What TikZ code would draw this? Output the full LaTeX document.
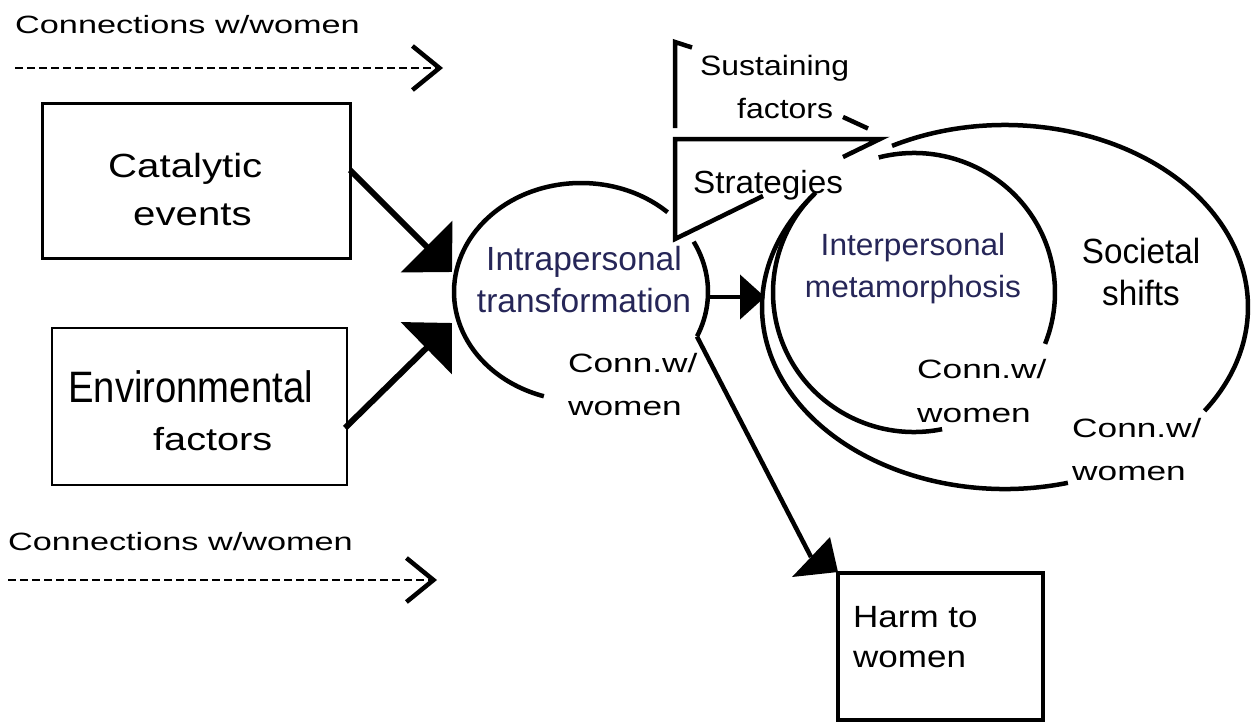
\documentclass[tikz,border=0pt]{standalone}
\usepackage{fontspec}
\setmainfont{Liberation Sans}
\usetikzlibrary{arrows.meta,shapes.geometric}
\newcommand\tfnt[3]{\fontsize{#1}{#2}\selectfont\addfontfeature{FakeStretch=#3}}
\definecolor{navy}{RGB}{38,38,88}
\begin{document}
\begin{tikzpicture}[x=1pt,y=-1pt,
  txt/.style={inner sep=0pt, anchor=base west, align=left},
  ctxt/.style={inner sep=0pt, anchor=base, align=center},
  boxnode/.style={draw, line width=3pt, rectangle, inner sep=0pt, outer sep=0pt},
  ring/.style={ellipse, inner sep=0pt, outer sep=0pt, draw=none},
  ln/.style={line width=4.5pt},
  bigarrow/.style={line width=6pt, -{Triangle[length=36pt,width=72pt]}},
  midarrow/.style={line width=4.5pt, -{Triangle[length=25pt,width=44pt]}},
  dasharrow/.style={line width=2.2pt, dash pattern=on 8pt off 4pt, -{Straight Barb[length=27pt,width=44pt,line width=4.5pt]}},
]
\useasboundingbox[fill=white] (0,0) rectangle (1254,723);

% boxes
\node[boxnode, minimum width=308pt, minimum height=155pt] (cat) at (196,180.5) {};
\node[boxnode, line width=2.5pt, minimum width=295pt, minimum height=157pt] (env) at (199.5,406.5) {};
\node[boxnode, line width=3.5pt, minimum width=205pt, minimum height=147pt] (harm) at (940.5,646.5) {};

% ellipses (named, arcs drawn below)
\node[ring, minimum width=254pt, minimum height=218pt] (intra) at (581,292) {};
\node[ring, minimum width=282pt, minimum height=279pt] (inter) at (914,292.5) {};
\node[ring, minimum width=486pt, minimum height=364pt] (soc) at (1005,307) {};

% intrapersonal ring
\draw[ln, shift={(intra.center)}] (-47:127 and 109) arc[start angle=-47, end angle=-253, x radius=127, y radius=109];
\draw[ln, shift={(intra.center)}] (-27.5:127 and 109) arc[start angle=-27.5, end angle=24, x radius=127, y radius=109];
% interpersonal ring
\draw[ln, shift={(inter.center)}] (255.5:141 and 139.5) arc[start angle=255.5, end angle=381.6, x radius=141, y radius=139.5];
\draw[ln, shift={(inter.center)}] (78.5:141 and 139.5) arc[start angle=78.5, end angle=225.8, x radius=141, y radius=139.5];
% societal ring
\draw[ln, shift={(soc.center)}] (242.3:243 and 182) arc[start angle=242.3, end angle=394.8, x radius=243, y radius=182];
\draw[ln, shift={(soc.center)}] (75:243 and 182) arc[start angle=75, end angle=218.4, x radius=243, y radius=182];

% sustaining factors / strategies triangles
\draw[ln] (692,47.5) -- (675,42) -- (675,128);
\draw[ln] (843,117) -- (868,128.5);
\draw[ln] (763,196) -- (675,239) -- (675,139) -- (880,139) -- (843,157);

% texts
\node[txt, font={\tfnt{25}{30}{1.37}}] (conntop) at (15,33) {Connections w/women};
\node[txt, font={\tfnt{25}{30}{1.37}}] (connbot) at (8,550) {Connections w/women};
\node[txt, font={\tfnt{33.5}{48}{1.2}}] (catT) at (108,225) {Catalytic\\\hspace*{25pt}events};
\node[txt, font={\tfnt{44}{50}{0.87}}] (envT1) at (68,402) {Environmental};
\node[txt, font={\tfnt{32}{40}{1.24}}] (envT2) at (153,450) {factors};
\node[ctxt, text=navy, font={\tfnt{33.5}{42}{1.0}}] (intraT) at (584,312) {Intrapersonal\\transformation};
\node[txt, font={\tfnt{26.5}{43}{1.33}}] (connT1) at (568,415) {Conn.w/\\women};
\node[txt, font={\tfnt{32}{40}{1.04}}] (stratT) at (693,193) {Strategies};
\node[txt, font={\tfnt{28}{43}{1.14}}] (sustT) at (700,118) {Sustaining\\\hspace*{37pt}factors};
\node[ctxt, text=navy, font={\tfnt{30.7}{42}{1.03}}] (interT) at (913,297) {Interpersonal\\metamorphosis};
\node[ctxt, font={\tfnt{35}{42}{0.95}}] (socT) at (1141,305) {Societal\\shifts};
\node[txt, font={\tfnt{26.5}{44}{1.33}}] (connT2) at (917,422) {Conn.w/\\women};
\node[txt, font={\tfnt{26.5}{43}{1.33}}] (connT3) at (1072,480) {Conn.w/\\women};
\node[txt, font={\tfnt{30.7}{40}{1.14}}] (harmT) at (853,667) {Harm to\\women};

% connectors
\coordinate (d1a) at (15,68); \coordinate (d1b) at (443,68);
\coordinate (d2a) at (8,580); \coordinate (d2b) at (437,580);
\draw[dasharrow] (d1a) -- (d1b);
\draw[dasharrow] (d2a) -- (d2b);
\draw[bigarrow] ([yshift=10.5pt]cat.east) -- ([xshift=-2pt,yshift=20pt]intra.west);
\draw[bigarrow] ([xshift=-2pt,yshift=-21.5pt]env.east) -- ([xshift=-2pt,yshift=-31pt]intra.west);
\draw[midarrow] ([yshift=-5pt]intra.east) -- ([xshift=3pt,yshift=10pt]soc.west);
\draw[ln] (intra.-21) -- ([xshift=-27pt,yshift=16pt]harm.north west);
\fill ([yshift=1pt]harm.north west) -- ([xshift=-8pt,yshift=36pt]harm.north west) -- ([xshift=-46pt,yshift=-4pt]harm.north west) -- cycle;
\end{tikzpicture}
\end{document}
